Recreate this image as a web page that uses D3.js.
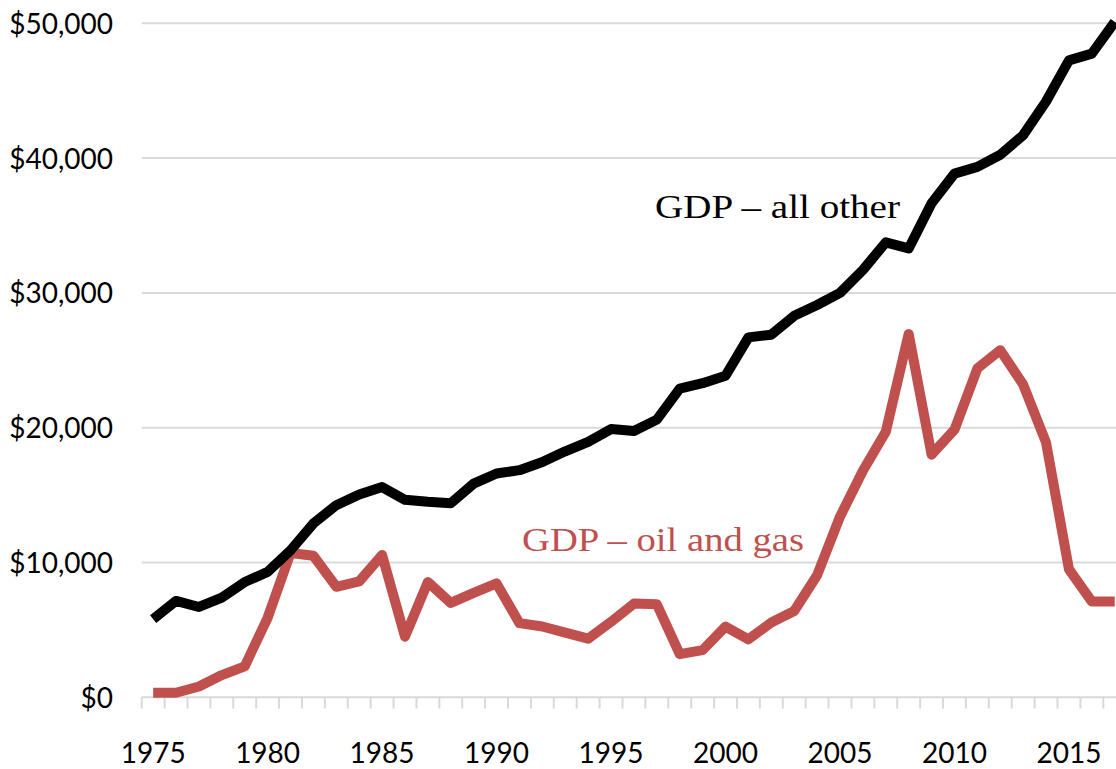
<!DOCTYPE html>
<html><head><meta charset="utf-8">
<script src="https://cdn.jsdelivr.net/npm/d3@7/dist/d3.min.js"></script>
<style>body{margin:0;background:#fff}svg{display:block}</style>
</head><body><svg id="c" width="1116" height="769"></svg>
<script>
const years = d3.range(1975, 2018);
const allOther = [5800,7150,6700,7400,8550,9300,10900,12900,14250,15050,15600,14650,14500,14400,15850,16600,16850,17450,18250,18950,19900,19750,20600,22900,23300,23850,26700,26900,28300,29100,30000,31700,33750,33300,36650,38850,39350,40250,41700,44200,47250,47750,50100];
const oilGas = [340,340,800,1650,2300,5900,10700,10500,8200,8600,10550,4500,8550,7000,7750,8450,5500,5250,4800,4350,5600,6950,6900,3200,3500,5250,4300,5550,6400,9050,13400,16800,19700,26950,18000,19850,24400,25750,23200,18900,9500,7100,7100];
const yTicks = [0,10000,20000,30000,40000,50000];
const xLabelYears = [1975,1980,1985,1990,1995,2000,2005,2010,2015];
const seriesLabels = ["GDP \u2013 all other", "GDP \u2013 oil and gas"];

const svg = d3.select("#c");
const x = d3.scaleBand().domain(years).range([141.7, 141.7 + 22.895*years.length]).paddingInner(0).paddingOuter(0);
const y = d3.scaleLinear().domain([0, 50000]).range([697.3, 23.3]);
const cx = d => x(d) + x.bandwidth()/2;

// gridlines
svg.append("g").selectAll("line").data(yTicks).join("line")
  .attr("x1", 141.7).attr("x2", 1116).attr("y1", d=>y(d)).attr("y2", d=>y(d))
  .attr("stroke", "#d9d9d9").attr("stroke-width", 2);

// y labels
svg.append("g").selectAll("text").data(yTicks).join("text")
  .attr("x", 113).attr("y", d=>y(d)+10.5).attr("text-anchor","end")
  .attr("font-family","Lato, 'Open Sans', sans-serif").attr("font-size",28).attr("fill","#000")
  .text(d => "$" + d3.format(",")(d));

// x axis tick marks (between categories)
const tickPos = d3.range(years.length+1).map(i => 141.7 + 22.895*i);
svg.append("g").selectAll("line").data(tickPos).join("line")
  .attr("x1", d=>d).attr("x2", d=>d).attr("y1", 697.3).attr("y2", 708.5)
  .attr("stroke","#d9d9d9").attr("stroke-width",2);

// x labels
svg.append("g").selectAll("text").data(xLabelYears).join("text")
  .attr("x", d=>cx(d)).attr("y", 763).attr("text-anchor","middle")
  .attr("font-family","Lato, 'Open Sans', sans-serif").attr("font-size",28).attr("fill","#000")
  .text(d=>d);

const line = d3.line().x((d,i)=>cx(years[i])).y(d=>y(d));
svg.append("path").datum(oilGas).attr("d", line).attr("fill","none")
  .attr("stroke","#c0504d").attr("stroke-width",10).attr("stroke-linejoin","round");
svg.append("path").datum(allOther).attr("d", line).attr("fill","none")
  .attr("stroke","#000").attr("stroke-width",10).attr("stroke-linejoin","round");

svg.append("text").attr("x",655).attr("y",218).attr("font-family","'Liberation Serif', serif")
  .attr("font-size",34).attr("textLength",245).attr("lengthAdjust","spacingAndGlyphs").attr("fill","#000").text(seriesLabels[0]);
svg.append("text").attr("x",522).attr("y",551).attr("font-family","'Liberation Serif', serif")
  .attr("font-size",34).attr("textLength",282).attr("lengthAdjust","spacingAndGlyphs").attr("fill","#c0504d").text(seriesLabels[1]);
</script></body></html>
